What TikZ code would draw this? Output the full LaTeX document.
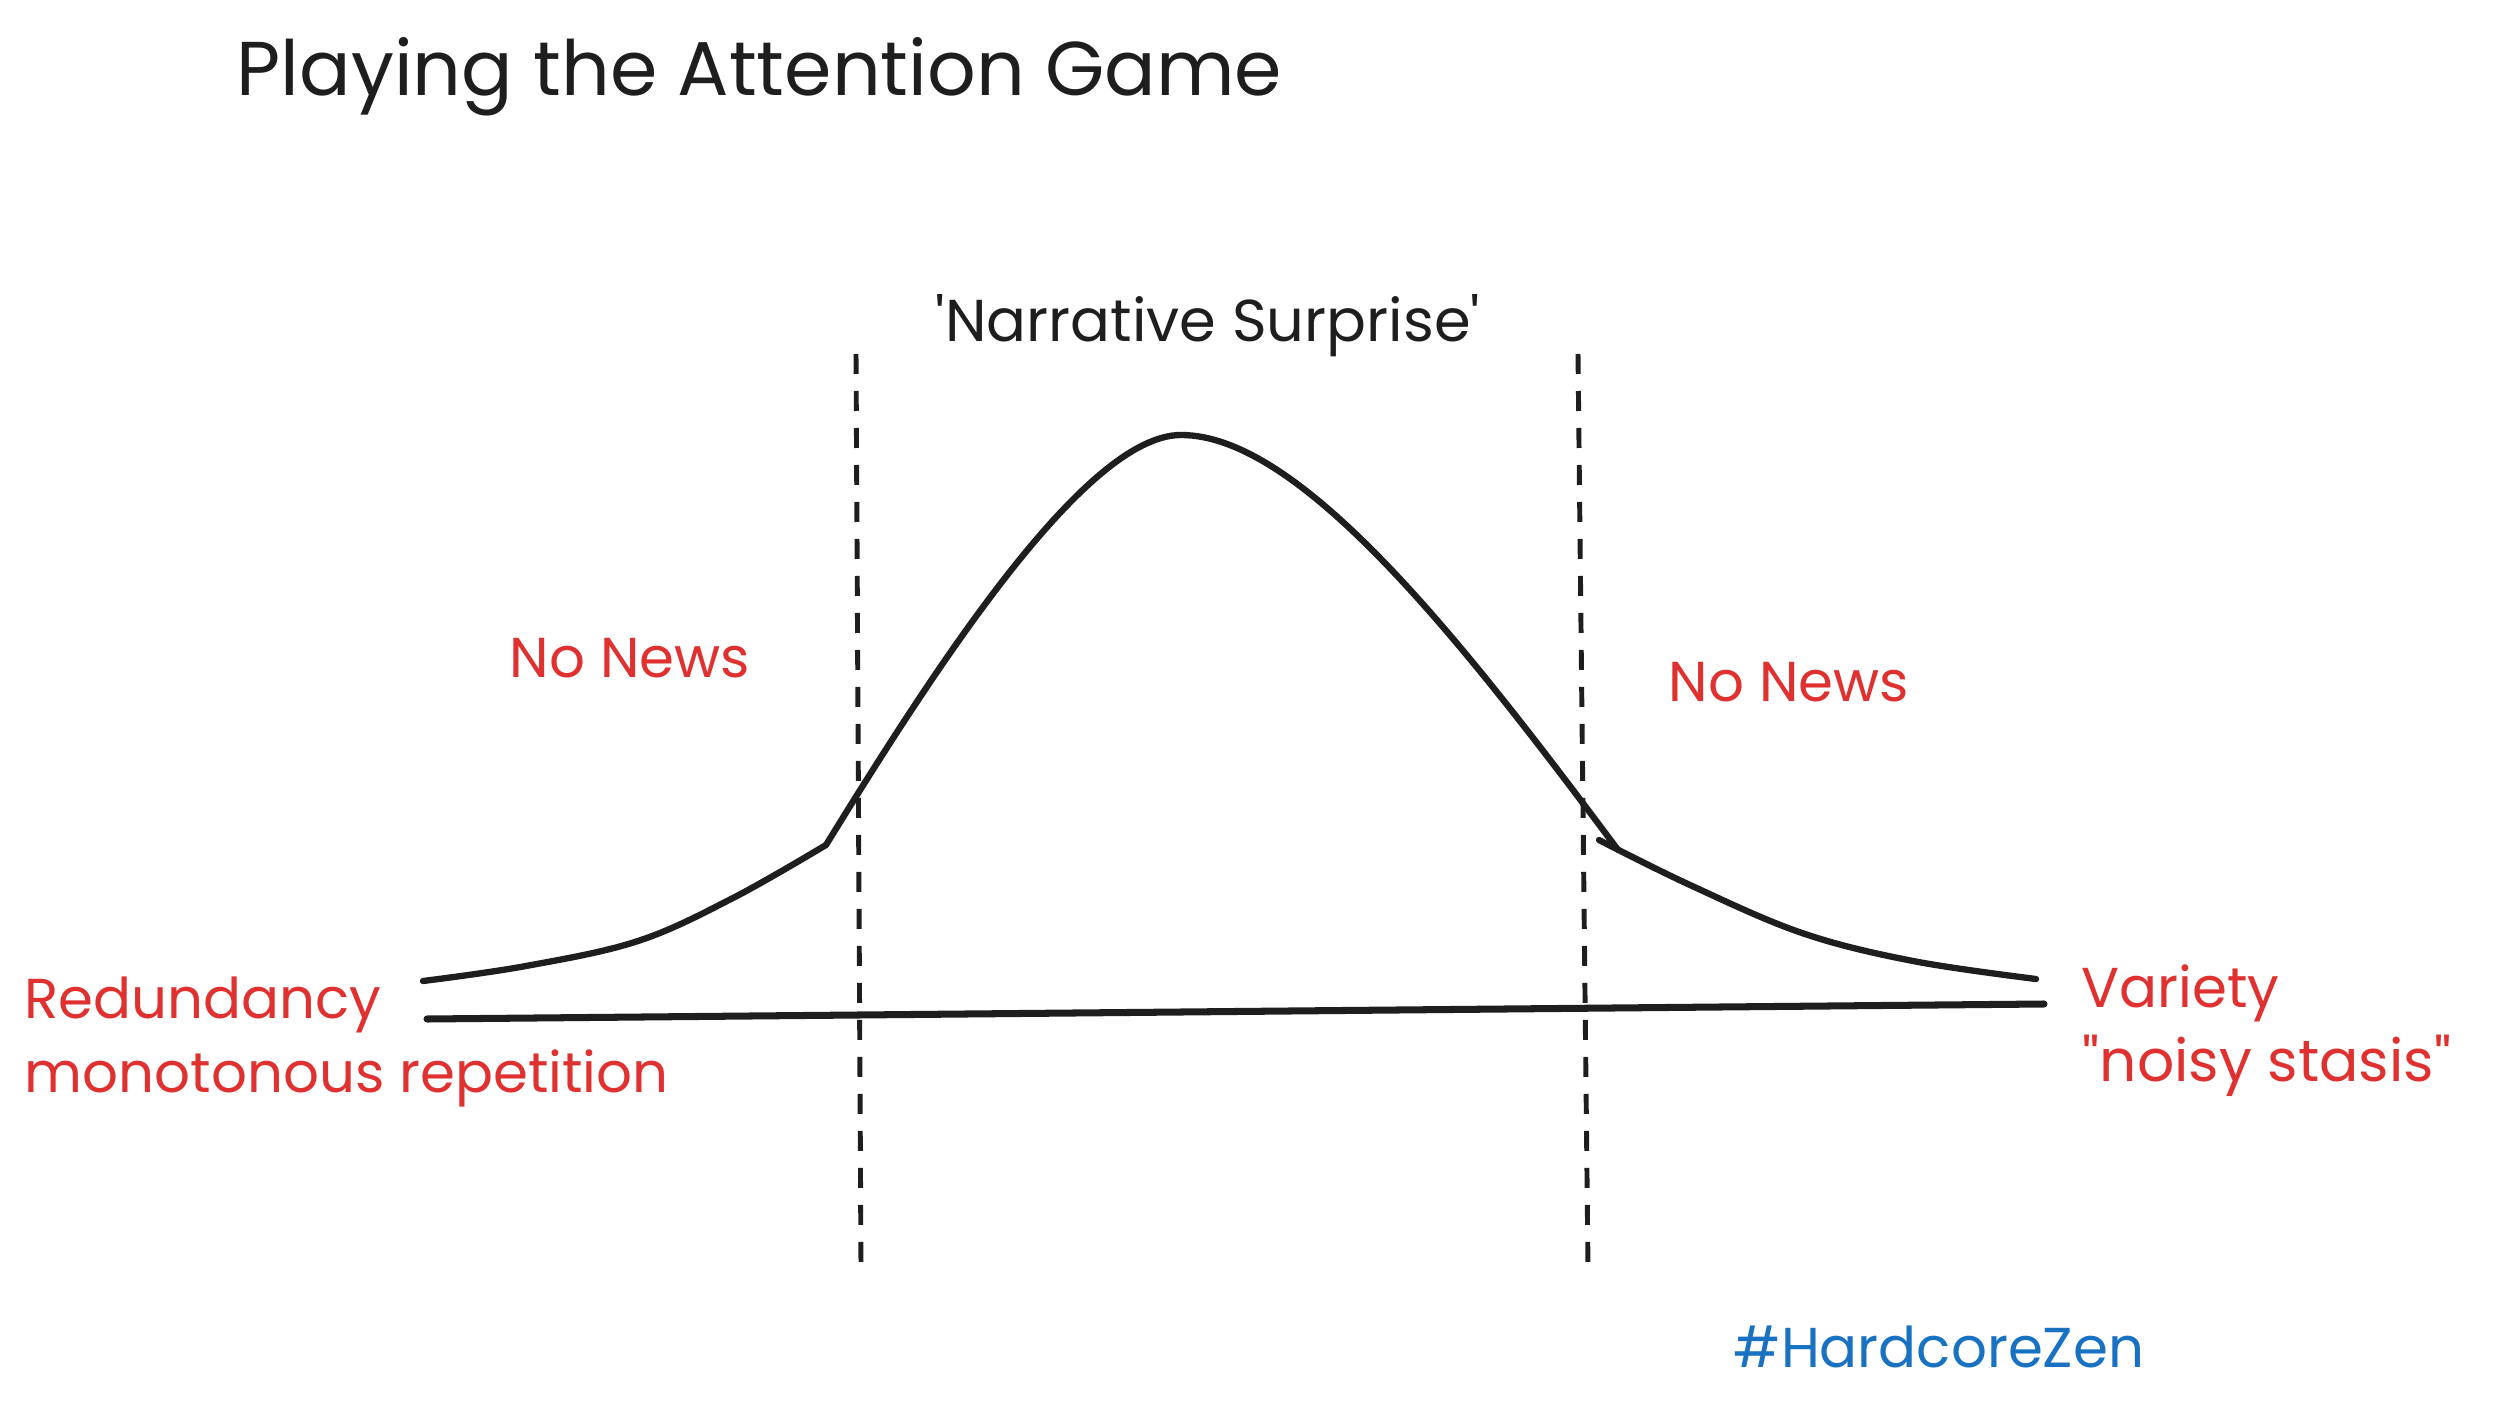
\documentclass[tikz,border=0pt]{standalone}
\usepackage{fontspec}
\setmainfont{Poppins}
\usepackage{tikz}
\usetikzlibrary{positioning}

\definecolor{inkblack}{HTML}{1E1E1E}
\definecolor{inkred}{HTML}{E03131}
\definecolor{inkblue}{HTML}{1971C2}

\begin{document}
\begin{tikzpicture}[
    curve/.style={draw=inkblack, line width=1.8pt, line cap=round, line join=round},
    axis/.style={draw=inkblack, line width=2pt, line cap=round},
    divider/.style={draw=inkblack, line width=1.4pt, dash pattern=on 0.2cm off 0.17cm},
    redlbl/.style={text=inkred, font=\fontsize{16}{19}\selectfont, inner sep=0pt},
    blklbl/.style={text=inkblack, inner sep=0pt},
  ]
    \useasboundingbox (0,0) rectangle (25,14.08);

    % titles
    \node[blklbl, anchor=west, font=\fontsize{21.7}{26}\selectfont] (title) at (2.36,13.31) {Playing the Attention Game};
    \node[blklbl, font=\fontsize{16.8}{20}\selectfont] (surprise) at (12.08,10.82) {\textquotesingle Narrative Surprise\textquotesingle};

    % dividers
    \draw[divider] (8.56,10.54) -- (8.61,1.40);
    \draw[divider] (15.78,10.54) -- (15.88,1.40);

    % baseline
    \draw[axis] (4.27,3.89) -- (20.44,4.04);

    % bell curve, drawn in three strokes
    \draw[curve] plot[smooth, tension=0.6] coordinates {(4.23,4.27) (5.26,4.42) (6.38,4.67) (7.33,5.10) (8.26,5.63)};
    \draw[curve] (8.26,5.63) .. controls (9.35,7.4) and (10.85,9.73) .. (11.81,9.73)
                 .. controls (13.0,9.73) and (14.6,7.7) .. (16.18,5.58);
    \draw[curve] plot[smooth, tension=0.6] coordinates {(15.99,5.68) (16.90,5.23) (18.02,4.75) (19.13,4.47) (20.36,4.29)};

    % labels
    \node[redlbl] (newsl) at (6.30,7.50) {No News};
    \node[redlbl] (newsr) at (17.89,7.26) {No News};
    \node[redlbl, anchor=west] (redund) at (0.24,4.03) {Redundancy};
    \node[redlbl, anchor=west] (monot) at (0.24,3.30) {monotonous repetition};
    \node[redlbl, anchor=west] (variety) at (20.81,4.15) {Variety};
    \node[redlbl, anchor=west, font=\fontsize{16.6}{19}\selectfont] (noisy) at (20.82,3.42) {\textquotedbl noisy stasis\textquotedbl};
    \node[redlbl, text=inkblue] (tag) at (19.39,0.61) {\#HardcoreZen};
  \end{tikzpicture}
\end{document}
